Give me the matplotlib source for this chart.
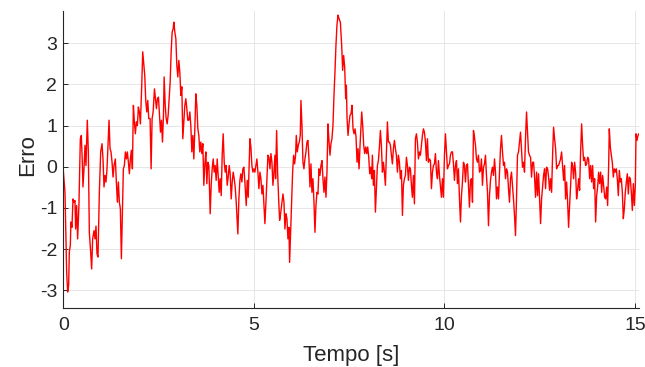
import matplotlib
matplotlib.use("Agg")
import matplotlib.pyplot as plt
import numpy as np

plt.rcParams['font.family'] = ['Liberation Sans', 'DejaVu Sans']
plt.rcParams['axes.unicode_minus'] = False

# erro de rastreamento ao longo do tempo (t [s], erro)
trecho_1 = [
    (0.0, -0.1), (0.044, -0.62), (0.088, -2.56), (0.114, -3.04), (0.14, -2.88), (0.158, -2.07),
    (0.184, -1.91), (0.20, -1.34), (0.228, -1.47), (0.254, -0.78), (0.28, -0.86), (0.306, -0.82),
    (0.324, -1.51), (0.35, -0.94), (0.376, -1.75), (0.41, -0.94), (0.447, 0.68), (0.473, 0.76),
    (0.499, 0.11), (0.516, -0.49), (0.543, -0.05), (0.569, 0.52), (0.595, 0.03), (0.63, 1.13),
    (0.657, 0.36), (0.683, -1.59), (0.718, -2.07), (0.744, -2.48), (0.77, -1.75), (0.806, -1.55),
    (0.832, -1.75), (0.858, -1.44), (0.884, -2.11), (0.91, -2.19), (0.946, -0.62), (0.981, 0.36),
    (1.016, 0.56), (1.042, 0.19), (1.068, -0.49), (1.095, -0.21), (1.12, -0.37), (1.147, -0.05),
    (1.173, 0.52), (1.2, 1.13), (1.226, 0.44), (1.252, 0.36), (1.279, 0.11), (1.305, -0.25),
    (1.331, 0.03), (1.366, 0.19), (1.392, -0.37), (1.419, -0.86), (1.445, -0.37), (1.471, -0.86),
    (1.497, -1.02), (1.524, -2.23), (1.55, -1.10), (1.576, -0.05), (1.602, 0.03), (1.629, 0.36),
    (1.655, 0.19), (1.681, 0.36), (1.708, 0.11), (1.734, -0.17), (1.76, 0.19), (1.786, 0.40),
    (1.813, -0.05), (1.839, 1.49), (1.865, 1.09), (1.891, 0.80), (1.918, 1.09), (1.944, 1.0),
    (1.97, 1.45), (1.996, 1.33), (2.023, 1.04), (2.058, 1.98), (2.084, 2.79), (2.11, 2.50),
    (2.137, 2.22), (2.163, 1.61), (2.19, 1.33), (2.216, 1.61), (2.242, 1.17), (2.277, 1.17),
]
trecho_2 = [
    (2.304, -0.05), (2.33, 1.17), (2.357, 1.33), (2.392, 1.89), (2.418, 1.65), (2.444, 1.41),
    (2.47, 1.65), (2.497, 1.69), (2.523, 1.25), (2.55, 0.84), (2.576, 1.13), (2.602, 0.60),
    (2.628, 1.25), (2.646, 2.18), (2.672, 1.53), (2.699, 1.17), (2.725, 1.04), (2.751, 1.25),
    (2.778, 1.65), (2.804, 2.06), (2.83, 2.79), (2.856, 3.27), (2.883, 3.35), (2.9, 3.51),
    (2.926, 3.27), (2.953, 3.11), (2.979, 2.46), (3.005, 2.18), (3.031, 2.58), (3.057, 2.30),
    (3.084, 1.73), (3.11, 1.94), (3.136, 0.68), (3.162, 1.09), (3.189, 1.49), (3.215, 1.65),
    (3.241, 1.41), (3.267, 1.13), (3.294, 1.13), (3.32, 1.33), (3.346, 1.0), (3.372, 0.36),
    (3.399, 0.76), (3.425, 0.19), (3.451, 0.92), (3.477, 1.77), (3.504, 1.49), (3.53, 0.92),
    (3.556, 0.76), (3.582, 0.36), (3.609, 0.60), (3.635, 0.32), (3.661, 0.56), (3.687, -0.45),
    (3.714, 0.07), (3.74, 0.36), (3.766, -0.41), (3.792, 0.11), (3.819, 0.03), (3.854, -1.14),
    (3.88, -0.45), (3.906, -0.05), (3.933, 0.19), (3.959, -0.13), (3.985, 0.03), (4.011, -0.33),
    (4.038, 0.19), (4.064, -0.21), (4.09, -0.62), (4.116, -0.29), (4.143, -0.70), (4.169, 0.28),
    (4.195, 0.80), (4.222, 0.11), (4.248, -0.13), (4.274, 0.03), (4.3, -0.45), (4.327, -0.25),
    (4.353, 0.03), (4.379, -0.17), (4.405, -0.78), (4.432, -0.37), (4.458, -0.13), (4.484, -0.29),
    (4.51, -0.49), (4.537, -0.86), (4.563, -1.34), (4.58, -1.63), (4.607, -0.78), (4.633, -0.33),
    (4.659, -0.17), (4.686, -0.37), (4.712, -0.05), (4.738, -0.01), (4.764, -0.37),
]
trecho_3 = [
    (4.80, -0.94), (4.826, -0.33), (4.852, -0.74), (4.87, -0.13), (4.896, 0.68), (4.922, 0.48),
    (4.948, 0.03), (4.975, -0.13), (5.0, -0.05), (5.027, -0.13), (5.054, 0.03), (5.08, 0.19),
    (5.106, -0.13), (5.132, -0.53), (5.159, -0.13), (5.185, -0.29), (5.212, -0.66), (5.238, -0.45),
    (5.264, -0.94), (5.29, -1.38), (5.317, -0.86), (5.343, -0.29), (5.369, 0.28), (5.395, 0.23),
    (5.422, -0.05), (5.448, 0.32), (5.474, 0.11), (5.5, -0.45), (5.527, -0.13), (5.553, 0.28),
    (5.57, -0.29), (5.597, 0.88), (5.623, -0.13), (5.65, -0.78), (5.676, -1.30), (5.702, -1.14),
    (5.737, -0.86), (5.763, -0.66), (5.79, -0.86), (5.815, -1.51), (5.842, -1.14), (5.868, -1.26),
    (5.894, -1.75), (5.92, -1.47), (5.938, -2.32), (5.964, -1.59), (5.99, -0.78), (6.017, -0.13),
    (6.043, 0.28), (6.069, 0.07), (6.095, 0.28), (6.113, 0.76), (6.139, 0.36), (6.165, 0.52),
    (6.192, 0.60), (6.218, 0.76), (6.235, 1.61), (6.262, 1.0), (6.288, 0.11), (6.314, -0.05),
    (6.34, 0.19), (6.367, 0.36), (6.393, 0.60), (6.419, 0.64), (6.445, 0.19), (6.472, -0.49),
    (6.498, 0.07), (6.524, -0.62), (6.55, -0.29), (6.577, -0.86), (6.603, -1.59), (6.629, -0.94),
    (6.655, -0.62), (6.682, -0.66), (6.708, -0.05), (6.734, -0.21), (6.76, 0.03), (6.787, 0.15),
    (6.813, -0.29), (6.839, -0.62), (6.865, -0.25), (6.892, -0.74), (6.918, -0.13), (6.944, 1.04),
    (6.97, 0.64), (6.997, 0.28), (7.023, 0.56), (7.049, 0.68), (7.075, 1.0), (7.102, 1.73),
    (7.128, 2.30), (7.154, 2.95), (7.18, 3.43), (7.207, 3.68), (7.233, 3.60),
]
trecho_4 = [
    (7.269, 3.51), (7.304, 2.95), (7.33, 2.34), (7.356, 2.70), (7.383, 2.42), (7.409, 1.65),
    (7.427, 1.98), (7.445, 1.17), (7.471, 0.76), (7.497, 1.04), (7.523, 1.25), (7.55, 1.29),
    (7.575, 1.49), (7.602, 0.92), (7.628, 0.80), (7.655, 0.92), (7.681, 0.72), (7.707, 0.11),
    (7.733, 0.44), (7.76, -0.05), (7.786, 0.52), (7.812, 1.0), (7.83, 1.33), (7.856, 1.0),
    (7.882, 0.52), (7.909, 0.32), (7.935, 0.48), (7.961, 0.32), (7.987, 0.48), (8.014, 0.23),
    (8.04, -0.17), (8.066, -0.01), (8.092, -0.29), (8.11, 0.28), (8.136, -0.45), (8.163, -0.09),
    (8.189, -1.10), (8.215, -0.53), (8.241, 0.03), (8.268, 0.15), (8.294, 0.48), (8.32, 0.88),
    (8.346, 0.52), (8.373, -0.13), (8.399, 0.11), (8.425, -0.13), (8.451, -0.45), (8.478, 0.36),
    (8.504, 1.09), (8.53, 0.60), (8.556, 0.60), (8.583, 0.52), (8.609, 0.28), (8.635, 0.07),
    (8.661, 0.44), (8.688, 0.64), (8.714, 0.44), (8.74, 0.28), (8.767, -0.13), (8.793, 0.28),
    (8.819, 0.11), (8.845, -0.29), (8.872, -0.09), (8.898, -1.18), (8.924, -0.45), (8.95, -0.29),
    (8.976, -0.21), (9.003, 0.23), (9.029, 0.03), (9.055, -0.33), (9.081, -0.01), (9.108, -0.05),
    (9.134, -0.45), (9.16, -0.74), (9.186, -0.21), (9.213, -0.90), (9.239, 0.68), (9.265, 0.80),
    (9.291, 0.60), (9.318, 0.19), (9.344, 0.36), (9.37, 0.28), (9.397, 0.52), (9.423, 0.76),
    (9.449, 0.92), (9.475, 0.84), (9.502, 0.60), (9.528, 0.15), (9.554, 0.68), (9.58, 0.11),
    (9.607, 0.19), (9.633, 0.15), (9.659, -0.53), (9.686, -0.13), (9.712, 0.03), (9.738, 0.07),
]
trecho_5 = [
    (9.764, 0.32), (9.791, -0.13), (9.817, -0.29), (9.843, 0.15), (9.869, -0.21), (9.896, -0.49),
    (9.922, -0.74), (9.948, -0.29), (9.974, -0.74), (10.001, 0.28), (10.027, 0.80), (10.053, 0.36),
    (10.079, -0.05), (10.106, 0.03), (10.132, 0.07), (10.158, 0.28), (10.184, 0.36), (10.211, 0.36),
    (10.237, 0.07), (10.263, -0.33), (10.29, 0.03), (10.316, 0.15), (10.342, -0.41), (10.368, -0.05),
    (10.395, -0.78), (10.421, -1.34), (10.447, -0.70), (10.473, -0.37), (10.5, 0.11), (10.526, 0.03),
    (10.552, -0.37), (10.578, 0.03), (10.605, 0.07), (10.631, -0.45), (10.657, -0.98), (10.683, -0.33),
    (10.71, -0.29), (10.736, -0.86), (10.762, 0.88), (10.788, 0.72), (10.815, 0.52), (10.841, 0.19),
    (10.867, 0.11), (10.893, 0.28), (10.92, -0.13), (10.946, -0.09), (10.972, 0.19), (10.998, -0.45),
    (11.025, -0.01), (11.051, 0.07), (11.077, 0.28), (11.103, -0.21), (11.13, -0.62), (11.156, -1.43),
    (11.182, -0.70), (11.209, -0.33), (11.235, -0.13), (11.261, -0.01), (11.287, -0.21), (11.314, 0.19),
    (11.34, -0.13), (11.366, -0.78), (11.392, -0.49), (11.419, -0.78), (11.445, -0.13), (11.471, 0.44),
    (11.497, 0.76), (11.524, 0.36), (11.55, 0.03), (11.576, 0.11), (11.602, -0.29), (11.629, -0.05),
    (11.655, -0.13), (11.681, -0.53), (11.707, -0.86), (11.734, -0.29), (11.76, -0.13), (11.786, -0.45),
    (11.812, -0.78), (11.839, -1.18), (11.865, -1.67), (11.891, -0.78), (11.917, 0.28), (11.944, 0.36),
    (11.97, 0.60), (11.996, 0.84), (12.022, 0.44), (12.049, -0.01), (12.075, 0.11), (12.101, -0.13),
    (12.127, 0.68), (12.154, 1.33), (12.18, 0.84), (12.206, 0.36), (12.232, 0.28),
]
trecho_6 = [
    (12.26, 0.23), (12.286, -0.25), (12.313, 0.11), (12.339, 0.11), (12.365, -0.25), (12.391, -0.74),
    (12.418, -0.13), (12.444, -0.70), (12.47, -0.17), (12.496, -0.74), (12.523, -1.38), (12.549, -0.78),
    (12.575, -0.49), (12.601, -0.21), (12.628, -0.05), (12.654, -0.53), (12.68, -0.01), (12.707, -0.05),
    (12.733, -0.25), (12.759, -0.57), (12.785, -0.29), (12.812, -0.62), (12.838, 0.28), (12.864, 0.96),
    (12.89, 0.68), (12.917, 0.44), (12.943, -0.05), (12.969, 0.03), (12.995, 0.03), (13.022, 0.11),
    (13.048, 0.19), (13.074, 0.36), (13.1, 0.03), (13.127, -0.33), (13.153, 0.03), (13.179, -0.78),
    (13.206, -0.37), (13.232, -0.86), (13.258, -1.47), (13.284, -0.94), (13.311, -0.45), (13.337, 0.11),
    (13.363, 0.03), (13.389, -0.29), (13.416, 0.11), (13.442, -0.13), (13.468, -0.78), (13.494, -0.57),
    (13.521, -0.29), (13.547, -0.57), (13.573, 0.36), (13.6, 1.04), (13.626, 0.52), (13.652, 0.15),
    (13.678, 0.23), (13.705, 0.03), (13.731, 0.07), (13.757, 0.23), (13.783, 0.19), (13.81, -0.29),
    (13.836, 0.03), (13.862, -0.37), (13.888, 0.03), (13.915, -0.53), (13.941, -0.29), (13.967, -1.34),
    (13.994, -0.70), (14.02, -0.49), (14.046, -0.13), (14.072, -0.41), (14.099, -0.13), (14.125, -0.62),
    (14.151, -0.21), (14.177, -0.45), (14.204, -0.74), (14.23, -0.78), (14.256, -0.49), (14.282, -0.94),
    (14.309, 0.03), (14.326, 0.92), (14.353, 0.48), (14.379, 0.28), (14.405, 0.11), (14.431, -0.25),
    (14.458, -0.05), (14.484, -0.13), (14.51, -0.05), (14.536, -0.29), (14.563, -0.70), (14.589, -0.09),
    (14.615, -0.37), (14.641, -0.29), (14.668, -0.62), (14.694, -1.26), (14.72, -1.02), (14.746, -0.62),
    (14.773, -0.37), (14.799, -0.17), (14.825, -0.66), (14.851, -0.25), (14.878, -0.29), (14.904, -0.62),
    (14.93, -1.06), (14.957, -0.41), (14.983, -0.94), (15.009, -0.45), (15.027, 0.80), (15.053, 0.64),
    (15.079, 0.76), (15.105, 0.80),
]

x_ticks = [0, 5, 10, 15]
y_ticks = [-3, -2, -1, 0, 1, 2, 3]

dados = np.array(trecho_1 + trecho_2 + trecho_3 + trecho_4 + trecho_5 + trecho_6)
tempo = dados[:, 0]
erro = dados[:, 1]

cinza = '#262626'

fig = plt.figure(figsize=(6.45, 3.67), dpi=100)
ax = fig.add_axes([63.3 / 645, 59.3 / 367, 575.5 / 645, 296.7 / 367])

ax.plot(tempo, erro, color='red', lw=1.0)

ax.set_xlim(0, 15.1)
ax.set_ylim(-3.42, 3.78)
ax.set_xticks(x_ticks)
ax.set_yticks(y_ticks)

ax.grid(True, color='#e2e2e2', lw=0.6)
ax.set_axisbelow(True)

for lado in ['top', 'right']:
    ax.spines[lado].set_visible(False)
for lado in ['left', 'bottom']:
    ax.spines[lado].set_color(cinza)
    ax.spines[lado].set_linewidth(0.8)

ax.tick_params(axis='both', direction='in', length=3.6, width=0.7, color=cinza,
               labelcolor=cinza, labelsize=14)
ax.tick_params(axis='x', pad=7)
ax.tick_params(axis='y', pad=4.5)

ax.set_xlabel('Tempo [s]', fontsize=16, color=cinza)
ax.set_ylabel('Erro', fontsize=16, color=cinza)
ax.xaxis.set_label_coords(0.5, -0.126)
ax.yaxis.set_label_coords(-0.044, 0.515)

fig.savefig('out.png', dpi=100)
